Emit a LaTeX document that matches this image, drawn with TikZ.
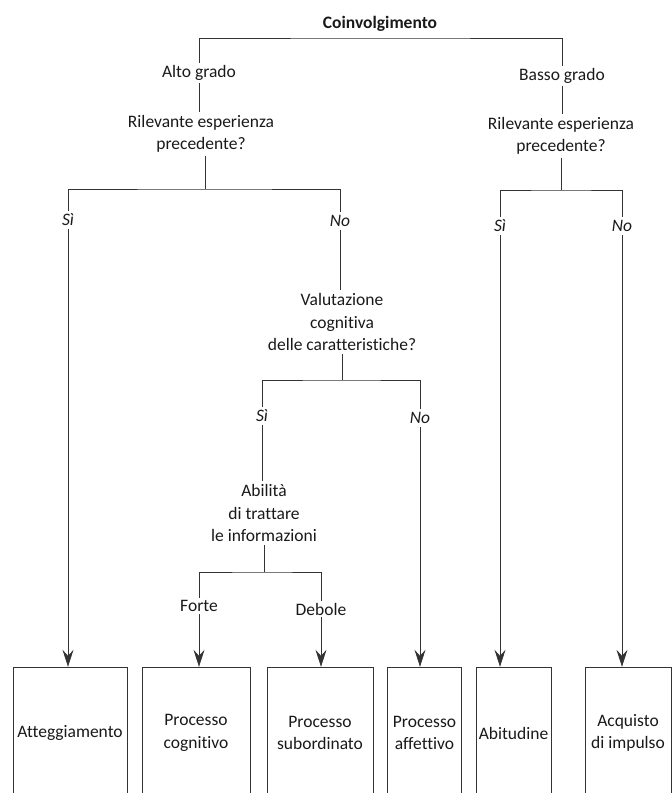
\documentclass[tikz,border=0pt]{standalone}
\usepackage{fontspec}
\setmainfont{Carlito}[Ligatures=NoCommon]
\usetikzlibrary{arrows.meta}

\begin{document}
\begin{tikzpicture}[
	x=1pt, y=-1pt,
	every node/.style={ font=\fontsize{17.5}{22.5}\selectfont, inner sep=2pt, text=black!90 },
	txt/.style={ align=center, inner sep=3pt },
	yn/.style={ font=\fontsize{17.5}{22.5}\selectfont\itshape, inner sep=3pt },
	box/.style={ draw=black!80, align=center, minimum height=132pt, inner sep=1pt },
	line/.style={ black!80, line width=0.8pt },
	arr/.style={ line, -{Stealth[length=17pt, width=11pt, inset=6pt]} }
]
\useasboundingbox (0,0) rectangle (672,793);
\clip (0,0) rectangle (672,793);

\node at (380,24) (coinv) {\bfseries Coinvolgimento};

\node at (199,73) (altoG) {Alto grado};
\node at (562,76) (bassoG) {Basso grado};
\coordinate (topbar) at (380,38);
\draw[line] (altoG.north) |- (topbar) -| (bassoG.north);

\node at (201,134) (rilA) [txt] {Rilevante esperienza\\precedente?};
\node at (561,136) (rilB) [txt] {Rilevante esperienza\\precedente?};
\draw[line] (altoG) to (altoG |- rilA.north);
\draw[line] (bassoG) to (bassoG |- rilB.north);

\node at (68,220) (siA) [yn] {Sì};
\node at (340,221) (noA) [yn] {No};
\node at (500,226) (siB) [yn] {Sì};
\node at (622,226) (noB) [yn] {No};
\coordinate (barA) at (205,189);
\coordinate (barB) at (561,190);
\draw[line] (rilA.south -| barA) to (barA);
\draw[line] (rilB) to (barB);
\draw[line] (siA.north) |- (barA) -| (noA.north);
\draw[line] (siB.north) |- (barB) -| (noB.north);

\node at (342,322) (valut) [txt] {Valutazione\\cognitiva\\delle caratteristiche?};
\draw[line] (noA) to (noA |- valut.north);

\node at (262,416) (siC) [yn] {Sì};
\node at (420,418) (noC) [yn] {No};
\coordinate (barC) at (342,380);
\draw[line] (valut) to (barC);
\draw[line] (siC.north) |- (barC) -| (noC.north);

\node at (264,513) (abil) [txt] {Abilità\\di trattare\\le informazioni};
\draw[line] (siC) to (siC |- abil.north);

\node at (199,606) (forte) {Forte};
\node at (321,609) (debole) {Debole};
\coordinate (barD) at (264,572);
\draw[line] (abil) to (barD);
\draw[line] (forte.north) |- (barD) -| (debole.north);

% esiti
\node at (70,733) (att) [box, minimum width=114pt] {Atteggiamento};
\node at (196,733) (cogn) [box, minimum width=108pt] {Processo\\cognitivo};
\node at (320,733) (subord) [box, minimum width=106pt] {Processo\\subordinato};
\node at (424.5,733) (affet) [box, minimum width=74pt] {Processo\\affettivo};
\node at (513.5,733) (abit) [box, minimum width=75pt] {Abitudine};
\node at (628,733) (acq) [box, minimum width=86pt] {Acquisto\\di impulso};

\draw[arr] (siA) to (siA |- att.north);
\draw[arr] (forte) to (forte |- cogn.north);
\draw[arr] (debole) to (debole |- subord.north);
\draw[arr] (noC) to (noC |- affet.north);
\draw[arr] (siB) to (siB |- abit.north);
\draw[arr] (noB) to (noB |- acq.north);

\end{tikzpicture}
\end{document}
